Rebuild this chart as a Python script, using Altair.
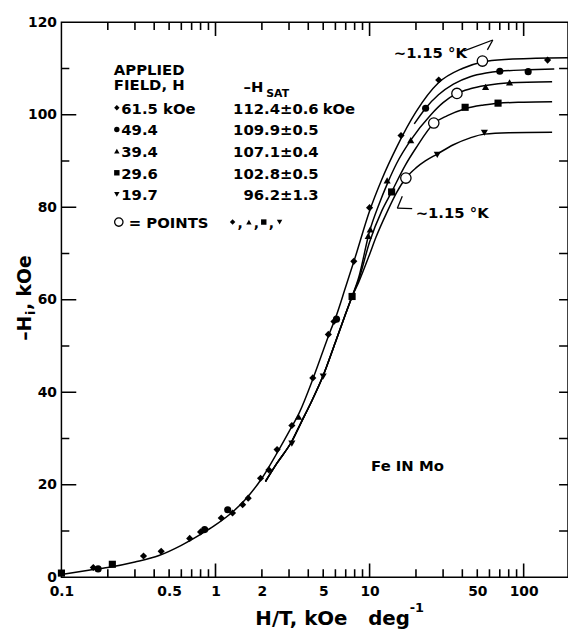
import math
import altair as alt
import pandas as pd

W, H = 512, 561
FONT = "DejaVu Sans"
NB = "\u00a0"
XMIN, XMAX = 0.1, 194
YMIN, YMAX = 0, 120

# ---------------- data ----------------
series_names = ["61.5", "49.4", "39.4", "29.6", "19.7"]
series_shapes = ["diamond", "circle", "triangle-up", "square", "triangle-down"]
sat_values = ["112.4±0.6", "109.9±0.5", "107.1±0.4", "102.8±0.5", "96.2±1.3"]
field_labels = ["61.5 kOe", "49.4", "39.4", "29.6", "19.7"]

# curves
c615_x = [0.1, 0.15, 0.2, 0.3, 0.43, 0.6, 0.85, 1.0, 1.3, 1.6, 2.0, 2.5, 3.0, 3.5, 4.3, 5.0, 5.5, 6.0,
          7.0, 8.0, 10, 12, 15, 20, 28, 40, 54, 80, 120, 194]
c615_y = [0.6, 1.5, 2.1, 3.3, 4.7, 6.9, 9.8, 11.3, 14.2, 17.2, 21.4, 26.8, 31.5, 35.6, 43.0, 49.0, 52.8, 56.0,
          62.8, 68.8, 79.2, 86.0, 93.0, 100.6, 106.9, 110.0, 111.4, 112.0, 112.2, 112.3]
c494_x = [19.5, 23.1, 28, 35, 45, 57, 70, 107, 158]
c494_y = [98.0, 101.4, 104.3, 106.6, 108.2, 109.0, 109.4, 109.7, 109.9]
low_x = [2.11, 2.5, 3.13, 3.6, 4.2, 5.0, 6.0, 7.0, 7.7]
low_y = [20.7, 24.6, 29.4, 33.5, 38.0, 43.6, 50.8, 57.0, 60.7]
c394_x = [8.5, 10, 11.5, 13, 15, 18.5, 25, 30, 36.9, 45, 56.6, 81, 153]
c394_y = [64.8, 74.8, 80.6, 85.0, 89.5, 94.5, 100.0, 102.6, 104.6, 105.6, 106.3, 106.9, 107.1]
c296_x = [8.5, 10, 12, 13.9, 17, 20, 26.1, 32, 41.7, 55, 68.2, 100, 153]
c296_y = [64.3, 72.5, 79.2, 83.3, 89.0, 92.8, 98.1, 99.8, 101.3, 102.1, 102.5, 102.7, 102.8]
c197_x = [8.5, 10, 11, 13, 15, 17.2, 20, 23, 27.5, 35, 45, 55.6, 80, 153]
c197_y = [63.8, 69.8, 73.5, 79.0, 83.2, 86.3, 88.5, 90.0, 91.5, 93.5, 95.0, 95.8, 96.1, 96.2]

# measured points
p615_x = [0.161, 0.341, 0.444, 0.68, 0.80, 1.09, 1.29, 1.50, 1.63, 1.96, 2.22, 2.51, 3.13, 4.28, 5.4, 5.87,
          7.9, 10.0, 16.0, 28.1, 143]
p615_y = [2.1, 4.6, 5.6, 8.4, 9.8, 12.8, 13.9, 15.7, 17.1, 21.4, 23.2, 27.6, 32.8, 43.1, 52.5, 55.3,
          68.3, 79.9, 95.5, 107.5, 111.8]
p494_x = [0.173, 0.85, 1.2, 6.1, 23.1, 70, 107]
p494_y = [1.8, 10.3, 14.6, 55.8, 101.4, 109.4, 109.3]
p394_x = [3.46, 9.8, 10.1, 13.0, 18.5, 56.6, 81]
p394_y = [34.7, 73.8, 75.2, 85.8, 94.5, 106.0, 107.0]
p296_x = [0.1, 0.214, 7.7, 13.9, 41.7, 68.2]
p296_y = [0.9, 2.8, 60.7, 83.3, 101.6, 102.5]
p197_x = [3.13, 5.0, 27.5, 55.6]
p197_y = [28.9, 43.4, 91.3, 96.1]

# open circles (~1.15 K)
open_x = [54, 36.9, 26.1, 17.2]
open_y = [111.6, 104.6, 98.2, 86.3]

# axis ticks / labels
x_labels = [0.1, 0.5, 1, 2, 5, 10, 50, 100]
x_minor = [0.2, 0.3, 0.4, 0.5, 0.6, 0.7, 0.8, 0.9, 2, 3, 4, 5, 6, 7, 8, 9,
           20, 30, 40, 50, 60, 70, 80, 90]
x_major = [1, 10, 100]
y_labels = [0, 20, 40, 60, 80, 100, 120]
y_major = [20, 40, 60, 80, 100]
y_minor = [10, 30, 50, 70, 90, 110]
y_right = [10, 20, 30, 40, 50, 60, 70, 80, 90, 100, 110]

# ---------------- build tables ----------------
def frame(name, xs, ys):
    return pd.DataFrame({"series": name, "x": xs, "y": ys})

curves = pd.concat([
    frame("61.5", c615_x, c615_y),
    frame("49.4", c494_x, c494_y),
    frame("39.4", low_x + c394_x, low_y + c394_y),
    frame("29.6", low_x + c296_x, low_y + c296_y),
    frame("19.7", low_x + c197_x, low_y + c197_y),
], ignore_index=True)

points = pd.concat([
    frame("61.5", p615_x, p615_y),
    frame("49.4", p494_x, p494_y),
    frame("39.4", p394_x, p394_y),
    frame("29.6", p296_x, p296_y),
    frame("19.7", p197_x, p197_y),
], ignore_index=True)

opens = pd.DataFrame({"x": open_x, "y": open_y})

xscale = alt.Scale(type="log", domain=[XMIN, XMAX], nice=False)
yscale = alt.Scale(domain=[YMIN, YMAX], nice=False)

label_style = dict(labelFont=FONT, labelFontSize=14, labelFontWeight="bold", labelColor="black",
                   labelFlush=False, labelOverlap=False, ticks=False, domain=False, grid=False, title=None)
xaxis = alt.Axis(values=x_labels, format="~g", labelPadding=7, **label_style)
yaxis = alt.Axis(values=y_labels, labelPadding=5, **label_style)

X = alt.X("x:Q", scale=xscale, axis=xaxis)
Y = alt.Y("y:Q", scale=yscale, axis=yaxis)

layers = []

layers.append(alt.Chart(curves).mark_line(interpolate="monotone", color="black", strokeWidth=1.5)
              .encode(x=X, y=Y, detail="series:N"))

layers.append(alt.Chart(points).mark_point(filled=True, color="black", size=52, opacity=1)
              .encode(x=X, y=Y,
                      shape=alt.Shape("series:N", scale=alt.Scale(domain=series_names, range=series_shapes),
                                      legend=None)))

layers.append(alt.Chart(opens).mark_point(shape="circle", filled=True, fill="white", stroke="black",
                                          strokeWidth=1.3, size=110, opacity=1)
              .encode(x=X, y=Y))

one = pd.DataFrame({"a": [0]})


def seg(x1, y1, x2, y2, w=1.3):
    return alt.Chart(one).mark_rule(color="black", strokeWidth=w, opacity=1).encode(
        x=alt.value(x1), y=alt.value(y1), x2=alt.value(x2), y2=alt.value(y2))


def txt(s, x, y, size=15, align="left", angle=0):
    return alt.Chart(one).mark_text(text=s, font=FONT, fontSize=size, fontWeight="bold", color="black",
                                    align=align, baseline="alphabetic", angle=angle).encode(
        x=alt.value(x), y=alt.value(y))


def sym(shape, x, y, size=28, filled=True):
    if filled:
        m = alt.Chart(one).mark_point(shape=shape, filled=True, color="black", size=size, opacity=1)
    else:
        m = alt.Chart(one).mark_point(shape=shape, filled=True, fill="white", stroke="black",
                                      strokeWidth=1.3, size=size, opacity=1)
    return m.encode(x=alt.value(x), y=alt.value(y))


# ---------------- inward frame ticks (same mapping as the axis scales) ----------------
def xpx(v):
    return W * math.log10(v / XMIN) / math.log10(XMAX / XMIN)


def ypx(v):
    return H * (1 - (v - YMIN) / (YMAX - YMIN))


TW = 1.6
for vals, length in ((x_minor, 8), (x_major, 14)):
    for v in vals:
        px = xpx(v)
        layers.append(seg(px, H, px + 0.01, H - length, TW))
        layers.append(seg(px, 0, px + 0.01, length, TW))
for vals, length in ((y_major, 15), (y_minor, 8)):
    for v in vals:
        py = ypx(v)
        layers.append(seg(0, py, length, py + 0.01, TW))
for v in y_right:
    py = ypx(v)
    layers.append(seg(W, py, W - 9, py + 0.01, TW))

# axis titles
layers.append(txt("H/T," + NB + "kOe" + NB * 3 + "deg", 196, 609, 20))
layers.append(txt("-1", 352, 596, 13))
layers.append(txt("–H", -31, 322, 19, angle=270))
layers.append(txt("i", -27, 296, 13, angle=270))
layers.append(txt(", kOe", -31, 291, 19, angle=270))

# legend block
layers.append(txt("APPLIED", 53, 53, 15))
layers.append(txt("FIELD, H", 53, 69, 15))
layers.append(txt("–H", 184, 71, 15))
layers.append(txt("SAT", 207, 76, 11))

for i, (lab, val, shp) in enumerate(zip(field_labels, sat_values, series_shapes)):
    base = 92.5 + 21.9 * i
    layers.append(sym(shp, 56, base - 6, size=30))
    layers.append(txt(lab, 60.5, base, 15))
    layers.append(txt(val, 260, base, 15, align="right"))
layers.append(txt("kOe", 264, 92.5, 15))

pts_base = 208
layers.append(sym("circle", 58, pts_base - 6, size=72, filled=False))
layers.append(txt("= POINTS", 68, pts_base, 15))
for j, (shp, xx) in enumerate(zip(["diamond", "triangle-up", "square", "triangle-down"],
                                  [173, 189.5, 204.5, 220.5])):
    layers.append(sym(shp, xx, pts_base - 6, size=30))
    if j < 3:
        layers.append(txt(",", xx + 5, pts_base, 14))

# annotations
layers.append(txt("~1.15 °K", 336, 36, 15))
layers.append(txt("~1.15 °K", 358, 198, 15))
layers.append(txt("Fe IN Mo", 313, 454, 15))

layers.append(seg(407, 29, 436, 18))
layers.append(seg(436, 18, 430.5, 28))
layers.append(seg(344.5, 176, 339.5, 188))
layers.append(seg(339.5, 188, 354.5, 188.5))

chart = alt.layer(*layers).properties(
    width=W, height=H,
    padding={"left": 54, "top": 11, "right": 0, "bottom": 53},
    autosize=alt.AutoSizeParams(type="none"),
    background="white",
).configure_view(stroke="black", strokeWidth=1.5)

chart.save("out.html", embed_options={"renderer": "svg", "actions": False})
